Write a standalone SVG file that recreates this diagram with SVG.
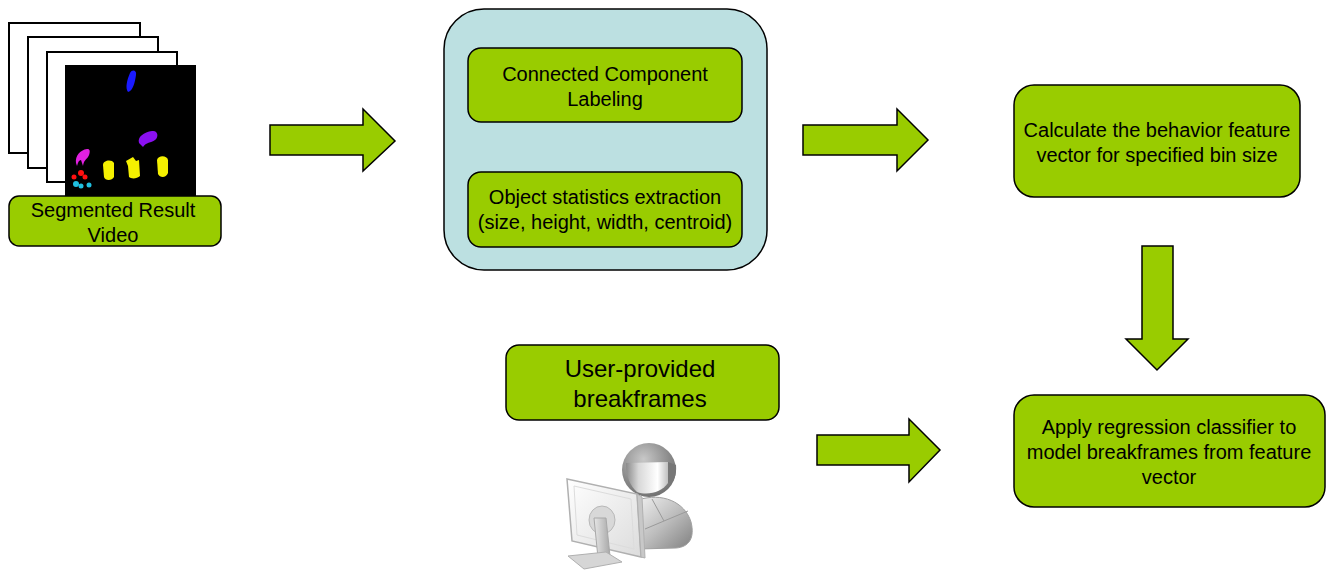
<svg xmlns="http://www.w3.org/2000/svg" width="1334" height="575" viewBox="0 0 1334 575">
  <style>
    .box { fill: #99cc00; stroke: #000; stroke-width: 1.5; }
    .arrow { fill: #99cc00; stroke: #000; stroke-width: 1.5; stroke-linejoin: miter; }
    .frame { fill: #fff; stroke: #000; stroke-width: 2; }
    .lbl { font-family: "Liberation Sans", Arial, sans-serif; font-size: 20px; fill: #000; text-anchor: middle; }
    .big { font-size: 24px; }
  </style>
  <defs>
    <radialGradient id="headGrad" cx="0.4" cy="0.3" r="0.8">
      <stop offset="0" stop-color="#c8c8c8"/>
      <stop offset="0.6" stop-color="#8a8a8a"/>
      <stop offset="1" stop-color="#6a6a6a"/>
    </radialGradient>
    <linearGradient id="faceGrad" x1="0" y1="0" x2="1" y2="0">
      <stop offset="0" stop-color="#8a8a8a"/>
      <stop offset="0.3" stop-color="#d8d8d8"/>
      <stop offset="0.75" stop-color="#ffffff"/>
      <stop offset="1" stop-color="#c0c0c0"/>
    </linearGradient>
    <linearGradient id="bodyGrad" x1="0" y1="0" x2="1" y2="1">
      <stop offset="0" stop-color="#f0f0f0"/>
      <stop offset="0.5" stop-color="#bdbdbd"/>
      <stop offset="1" stop-color="#808080"/>
    </linearGradient>
    <linearGradient id="monGrad" x1="0" y1="0" x2="1" y2="1">
      <stop offset="0" stop-color="#ffffff"/>
      <stop offset="1" stop-color="#dcdcdc"/>
    </linearGradient>
    <linearGradient id="standGrad" x1="0" y1="0" x2="1" y2="0">
      <stop offset="0" stop-color="#e6e6e6"/>
      <stop offset="1" stop-color="#a8a8a8"/>
    </linearGradient>
  </defs>

  <!-- video frames stack -->
  <g id="video">
    <rect class="frame" x="9" y="23" width="131" height="130"/>
    <rect class="frame" x="28" y="37" width="130" height="131"/>
    <rect class="frame" x="47" y="52" width="130" height="130"/>
    <rect x="65" y="65" width="131" height="135" fill="#000"/>
    <!-- segmented objects -->
    <path d="M128,92 C125,88 127,80 130,73 C132,69 137,70 136,75 C135,82 133,91 128,92 Z" fill="#1a1aff"/>
    <path d="M139,143 C137,137 144,132 152,131 C158,130 159,137 155,140 C151,143 146,142 143,147 Z" fill="#8a10f0"/>
    <path d="M76,163 C75,156 80,150 87,149 C91,148 90,154 88,157 C86,160 84,160 83,166 L81,160 C79,160 78,162 77,166 Z" fill="#e020e0"/>
    <path d="M103,165 C103,160 112,159 114,163 L114,177 C112,181 105,181 104,177 Z" fill="#f5f000"/>
    <path d="M126,161 L133,157 L136,161 L139,160 L140,176 C137,179 131,179 129,177 L128,166 Z" fill="#f5f000"/>
    <path d="M157,160 C158,155 167,155 168,160 L168,173 C166,178 160,178 158,174 Z" fill="#f5f000"/>
    <circle cx="74" cy="177" r="2.5" fill="#ff1010"/>
    <circle cx="81" cy="173" r="3" fill="#ff1010"/>
    <circle cx="85" cy="177" r="2.5" fill="#ff1010"/>
    <circle cx="76" cy="184" r="3" fill="#20c0e0"/>
    <circle cx="81" cy="186" r="2.5" fill="#20c0e0"/>
    <circle cx="89" cy="185" r="2.5" fill="#20c0e0"/>
    <rect class="box" x="9" y="196" width="212" height="50" rx="10"/>
    <text class="lbl" x="113" y="217">Segmented Result</text>
    <text class="lbl" x="113" y="242">Video</text>
  </g>

  <!-- processing container -->
  <g id="processing">
    <rect x="444" y="9" width="323" height="261" rx="40" fill="#bce0e1" stroke="#000" stroke-width="1.5"/>
  </g>
  <g id="ccl">
    <rect class="box" x="468" y="48" width="274" height="74" rx="13"/>
    <text class="lbl" x="605" y="81">Connected Component</text>
    <text class="lbl" x="605" y="106">Labeling</text>
  </g>
  <g id="stats">
    <rect class="box" x="468" y="172" width="274" height="75" rx="13"/>
    <text class="lbl" x="605" y="204">Object statistics extraction</text>
    <text class="lbl" x="605" y="229">(size, height, width, centroid)</text>
  </g>

  <g id="feature">
    <rect class="box" x="1014" y="85" width="286" height="112" rx="20"/>
    <text class="lbl" x="1157" y="137">Calculate the behavior feature</text>
    <text class="lbl" x="1157" y="162">vector for specified bin size</text>
  </g>

  <g id="classifier">
    <rect class="box" x="1014" y="395" width="311" height="112" rx="20"/>
    <text class="lbl" x="1169" y="434">Apply regression classifier to</text>
    <text class="lbl" x="1169" y="459">model breakframes from feature</text>
    <text class="lbl" x="1169" y="484">vector</text>
  </g>

  <g id="user">
    <rect class="box" x="506" y="345" width="273" height="75" rx="13"/>
    <text class="lbl big" x="640" y="377">User-provided</text>
    <text class="lbl big" x="640" y="407">breakframes</text>
    <!-- user at a computer icon -->
    <g id="user-icon">
      <path d="M638,500 C662,492 685,502 691,522 C695,538 689,547 676,548 L638,549 Z" fill="url(#bodyGrad)" stroke="#a0a0a0" stroke-width="1"/>
      <path d="M652,499 L664,521 L688,511" fill="none" stroke="#9a9a9a" stroke-width="1"/>
      <path d="M645,529 L664,521" fill="none" stroke="#9a9a9a" stroke-width="1"/>
      <circle cx="649" cy="470" r="27" fill="url(#headGrad)"/>
      <path d="M626,463 L668,462 L668,483 C662,492 648,496 637,492 C630,486 626,476 626,463 Z" fill="url(#faceGrad)"/>
      <path d="M668,462 L676,465 C677,476 673,484 668,483 Z" fill="#777"/>
      <path d="M567,479 L637,494 L641,557 L572,541 Z" fill="url(#monGrad)" stroke="#b0b0b0" stroke-width="1.5"/>
      <path d="M637,494 L642,497 L645,558 L641,557 Z" fill="#c8c8c8" stroke="#b0b0b0" stroke-width="1"/>
      <path d="M574,486 L631,499 L634,549 L577,535 Z" fill="none" stroke="#dcdcdc" stroke-width="1"/>
      <ellipse cx="602" cy="520" rx="13" ry="14" fill="#d8d8d8" stroke="#b8b8b8" stroke-width="1"/>
      <path d="M594,518 L606,518 L610,556 L598,558 Z" fill="url(#standGrad)" stroke="#a8a8a8" stroke-width="1"/>
      <path d="M568,556 L606,552 L622,562 L584,569 Z" fill="#d6d6d6" stroke="#b0b0b0" stroke-width="1"/>
    </g>
  </g>

  <!-- block arrows between stages -->
  <g id="connectors">
    <path class="arrow" d="M270,125 L363,125 L363,109 L395,141 L363,171 L363,155 L270,155 Z"/>
    <path class="arrow" d="M803,125 L897,125 L897,109 L928,140 L897,171 L897,155 L803,155 Z"/>
    <path class="arrow" d="M1142,246 L1173,246 L1173,339 L1188,339 L1157,370 L1126,339 L1142,339 Z"/>
    <path class="arrow" d="M817,435 L909,435 L909,419 L940,450 L909,482 L909,465 L817,465 Z"/>
  </g>
</svg>
